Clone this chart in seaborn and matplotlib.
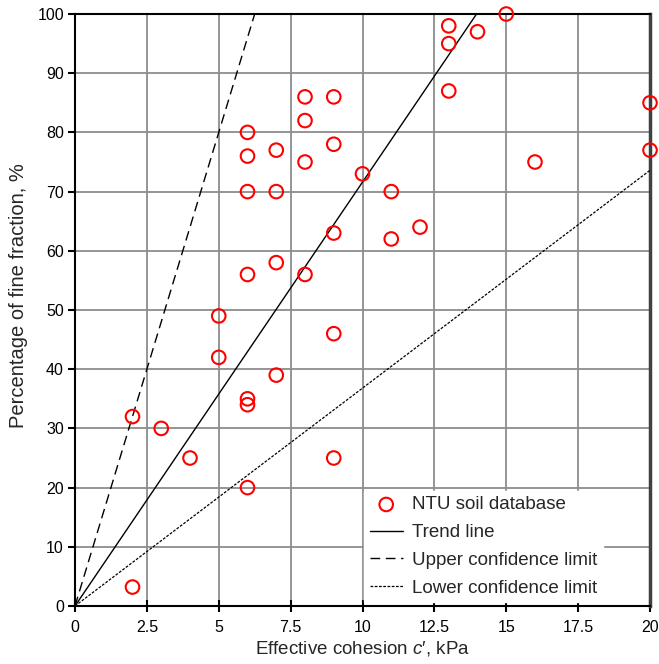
import numpy as np
import pandas as pd
import matplotlib
matplotlib.use("Agg")
import matplotlib.pyplot as plt
import seaborn as sns

# NTU soil database: effective cohesion (kPa) vs fine fraction (%)
cohesion = [2, 2, 3, 4, 5, 5, 6, 6, 6, 6, 6, 6, 6, 7, 7, 7, 7, 8, 8, 8, 8,
            9, 9, 9, 9, 9, 10, 11, 11, 12, 13, 13, 13, 14, 15, 16, 20, 20]
fines = [3.2, 32, 30, 25, 42, 49, 20, 34, 35, 56, 70, 76, 80, 39, 58, 70, 77, 56, 75, 82, 86,
         25, 46, 63, 78, 86, 73, 62, 70, 64, 87, 95, 98, 97, 100, 75, 77, 85]

# Slopes of the fitted line and its confidence limits (FF = k * c')
trend_slope = 7.16
upper_slope = 16.0
lower_slope = 3.68

x_ticks = [0, 2.5, 5, 7.5, 10, 12.5, 15, 17.5, 20]
x_tick_labels = ["0", "2.5", "5", "7.5", "10", "12.5", "15", "17.5", "20"]
y_ticks = [0, 10, 20, 30, 40, 50, 60, 70, 80, 90, 100]

sns.set_style("white")
plt.rcParams["font.family"] = ["Liberation Sans", "DejaVu Sans"]
plt.rcParams["mathtext.fontset"] = "custom"
plt.rcParams["mathtext.it"] = "Liberation Sans:italic"
plt.rcParams["mathtext.rm"] = "Liberation Sans"

fig = plt.figure(figsize=(6.59, 6.64), dpi=100)
ax = fig.add_axes([75 / 659, 1 - 606 / 664, 575 / 659, 592 / 664])

df = pd.DataFrame({"c": cohesion, "ff": fines})
sns.scatterplot(data=df, x="c", y="ff", ax=ax, marker="o", s=95,
                facecolor="none", edgecolor="red", linewidth=1.5,
                label="NTU soil database", zorder=5, clip_on=False)

xs = np.array([0.0, 20.0])
lines = pd.DataFrame({
    "x": np.concatenate([xs, xs, xs]),
    "y": np.concatenate([trend_slope * xs, upper_slope * xs, lower_slope * xs]),
    "kind": ["Trend line"] * 2 + ["Upper confidence limit"] * 2 + ["Lower confidence limit"] * 2,
})
styles = {"Trend line": dict(ls="-", lw=1.0),
          "Upper confidence limit": dict(ls=(0, (7, 4)), lw=1.0),
          "Lower confidence limit": dict(ls=(0, (2.2, 1.2)), lw=0.9)}
for name in ["Trend line", "Upper confidence limit", "Lower confidence limit"]:
    sub = lines[lines["kind"] == name]
    sns.lineplot(data=sub, x="x", y="y", ax=ax, color="black",
                 label=name, zorder=4, **styles[name])

ax.set_xlim(0, 20)
ax.set_ylim(0, 100)
ax.set_xticks(x_ticks)
ax.set_xticklabels(x_tick_labels)
ax.set_yticks(y_ticks)
ax.grid(True, color="#8c8c8c", linewidth=1.3)
ax.set_axisbelow(True)

for side in ["left", "bottom", "top"]:
    ax.spines[side].set_color("black")
    ax.spines[side].set_linewidth(1.5)
ax.spines["right"].set_color("#404040")
ax.spines["right"].set_linewidth(2.5)

ax.tick_params(axis="y", direction="out", length=5, width=1.5, labelsize=11.5,
               colors="black", left=True, pad=3)
ax.tick_params(axis="x", direction="inout", length=8, width=1.5, labelsize=11.5,
               colors="black", bottom=True, pad=6)

ax.set_xlabel(r"Effective cohesion $c$′, kPa", fontsize=13.5, labelpad=3)
ax.set_ylabel("Percentage of fine fraction, %", fontsize=14.5)
ax.yaxis.set_label_coords(-0.082, 0.525)

leg = ax.legend(loc="lower right", bbox_to_anchor=(0.918, 0.006), frameon=True,
                fontsize=13.5, borderaxespad=0, handlelength=1.75,
                handletextpad=0.5, labelspacing=0.57, fancybox=False, borderpad=0.3)
leg.get_frame().set_edgecolor("white")
leg.get_frame().set_facecolor("white")
leg.get_frame().set_alpha(1.0)
leg.set_zorder(10)

fig.savefig("out.png", dpi=100)
